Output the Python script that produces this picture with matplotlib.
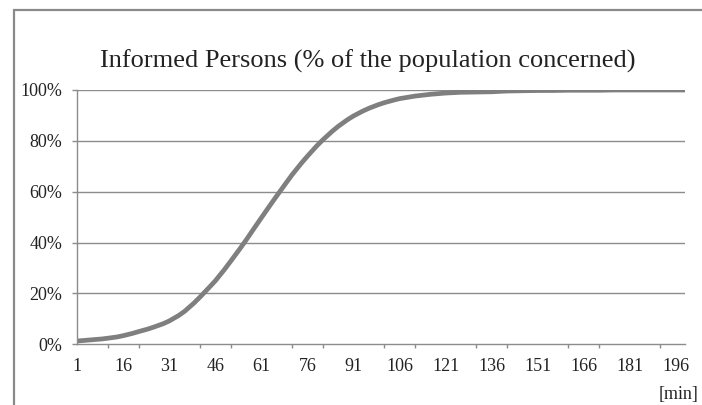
import matplotlib
matplotlib.use("Agg")
import matplotlib.pyplot as plt
from matplotlib.patches import Rectangle
from matplotlib.ticker import FixedLocator, FuncFormatter

plt.rcParams['font.family'] = ['Liberation Serif', 'DejaVu Serif']

# Data (minute -> % informed)
minutes = [1, 4, 6, 9, 11, 14, 16, 19, 21, 24, 26, 29, 31, 34, 36, 39, 41, 44,
           46, 49, 51, 54, 56, 59, 61, 64, 66, 69, 71, 74, 76, 79, 81, 84, 86,
           89, 91, 94, 96, 99, 101, 104, 106, 111, 116, 121, 126, 131, 136,
           141, 146, 151, 156, 161, 166, 171, 176, 181, 186, 191, 196, 199]
informed = [1.3, 1.6, 1.8, 2.1, 2.4, 2.9, 3.4, 4.3, 5.0, 6.0, 6.8, 8.1, 9.2,
            11.3, 13.0, 16.2, 18.6, 22.4, 25.0, 29.5, 32.7, 37.6, 41.0, 46.3,
            49.8, 55.0, 58.4, 63.4, 66.7, 71.2, 74.0, 78.0, 80.4, 83.7, 85.7,
            88.3, 89.8, 91.7, 92.8, 94.2, 95.0, 96.0, 96.6, 97.6, 98.3, 98.8,
            99.1, 99.2, 99.3, 99.6, 99.7, 99.8, 99.8, 99.9, 99.9, 99.9, 100,
            100, 100, 100, 100, 100]
label_ticks = list(range(1, 197, 15))
mark_ticks = list(range(1, 192, 10))
y_ticks = [0, 20, 40, 60, 80, 100]
title = "Informed Persons (% of the population concerned)"
x_unit = "[min]"

W, H = 702, 405
fig = plt.figure(figsize=(W / 100, H / 100), dpi=100)
fig.patch.set_facecolor('white')

# outer frame (cut off at right/bottom)
fig.patches.append(Rectangle((14.5 / W, -0.1), 1.2, (H - 10.3) / H + 0.1,
                             transform=fig.transFigure, fill=False,
                             edgecolor='#8a8a8a', linewidth=1.6))

ax = fig.add_axes([77.3 / W, (H - 344.3) / H, (685 - 77.3) / W, (344.3 - 90) / H])
grid_c = '#8c8c8c'
ax.plot(minutes, informed, color='#7f7f7f', linewidth=3.4,
        solid_capstyle='butt', solid_joinstyle='round')
ax.set_xlim(1, 199)
ax.set_ylim(0, 100)

for y in y_ticks[1:]:
    ax.axhline(y, color=grid_c, linewidth=1.0, zorder=0)

for s in ['top', 'right']:
    ax.spines[s].set_visible(False)
for s in ['left', 'bottom']:
    ax.spines[s].set_color(grid_c)
    ax.spines[s].set_linewidth(1.0)

ax.yaxis.set_major_locator(FixedLocator(y_ticks))
ax.yaxis.set_major_formatter(FuncFormatter(lambda v, p: f"{int(v)}%"))
ax.tick_params(axis='y', length=3.6, width=1.0, color=grid_c, pad=7,
               labelsize=13, labelcolor='#222222')

ax.xaxis.set_major_locator(FixedLocator(label_ticks))
ax.xaxis.set_minor_locator(FixedLocator(mark_ticks))
ax.tick_params(axis='x', which='major', length=0, pad=10, labelsize=13,
               labelcolor='#222222')
ax.tick_params(axis='x', which='minor', length=3.2, width=1.0, color=grid_c)

fig.text(368 / W, 1 - 61 / H, title, ha='center', va='center', fontsize=19,
         color='#222222')
fig.text(698 / W, 1 - 394 / H, x_unit, ha='right', va='center', fontsize=13,
         color='#222222')

fig.savefig('out.png', dpi=100, facecolor='white')
